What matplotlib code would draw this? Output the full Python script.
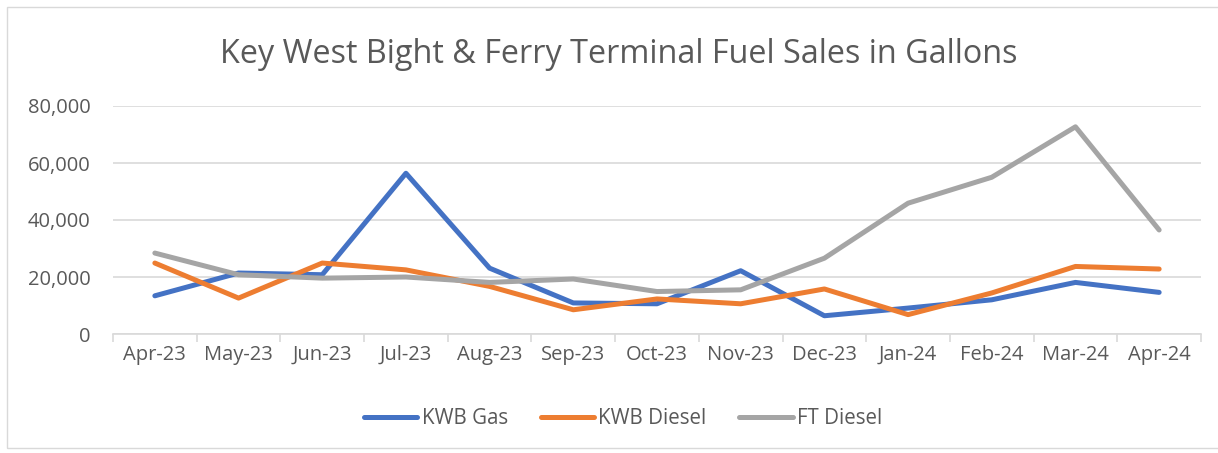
import numpy as np
import matplotlib.pyplot as plt
from matplotlib.patches import Rectangle
from matplotlib.ticker import FuncFormatter

# Data
months = ['Apr-23', 'May-23', 'Jun-23', 'Jul-23', 'Aug-23', 'Sep-23', 'Oct-23',
          'Nov-23', 'Dec-23', 'Jan-24', 'Feb-24', 'Mar-24', 'Apr-24']
kwb_gas = [13400, 21400, 20800, 56400, 23100, 10900, 10600,
           22200, 6400, 9100, 12000, 18100, 14600]
kwb_diesel = [24900, 12600, 24900, 22500, 16700, 8500, 12300,
              10600, 15800, 6800, 14400, 23700, 22800]
ft_diesel = [28400, 20800, 19600, 20000, 18100, 19300, 14900,
             15500, 26600, 45900, 55000, 72700, 36500]

plt.rcParams['font.family'] = ['Open Sans', 'DejaVu Sans']
text_color = '#595959'
grid_color = '#D9D9D9'

fig = plt.figure(figsize=(12.18, 4.53), dpi=100)
ax = fig.add_axes([113 / 1218, 1 - 334 / 453, (1201 - 113) / 1218, (334 - 106) / 453])

x = np.arange(len(months))
style = dict(lw=3.6, solid_capstyle='round', solid_joinstyle='round')
ax.plot(x, kwb_gas, color='#4472C4', label='KWB Gas', **style)
ax.plot(x, kwb_diesel, color='#ED7D31', label='KWB Diesel', **style)
ax.plot(x, ft_diesel, color='#A5A5A5', label='FT Diesel', **style)

ax.set_xlim(-0.5, len(months) - 0.5)
ax.set_ylim(0, 80000)
ax.set_yticks(range(0, 80001, 20000))
ax.yaxis.set_major_formatter(FuncFormatter(lambda v, p: f'{int(v):,}'))
ax.set_xticks(x)
ax.set_xticklabels(months)
ax.set_xticks(np.arange(-0.5, len(months)), minor=True)

ax.grid(axis='y', color=grid_color, lw=1.2)
ax.set_axisbelow(True)
for s in ['top', 'right', 'left']:
    ax.spines[s].set_visible(False)
ax.spines['bottom'].set_color(grid_color)
ax.spines['bottom'].set_linewidth(1.2)

ax.tick_params(axis='y', length=0, labelsize=14.5, labelcolor=text_color, pad=16)
ax.tick_params(axis='x', which='major', length=0, labelsize=14.5, labelcolor=text_color, pad=8)
ax.tick_params(axis='x', which='minor', length=6, color=grid_color, width=1.2)

fig.text(619 / 1218, 1 - 63 / 453, 'Key West Bight & Ferry Terminal Fuel Sales in Gallons',
         ha='center', va='baseline', fontsize=23.3, color=text_color)

leg = fig.legend(loc='center', bbox_to_anchor=(623 / 1218, 1 - 419 / 453), ncol=3,
                 frameon=False, fontsize=14.8, handlelength=2.6, handletextpad=0.2,
                 columnspacing=1.6)
for t in leg.get_texts():
    t.set_color(text_color)

# chart border
fig.patches.append(Rectangle((7 / 1218, 5 / 453), 1.0, 1 - 12 / 453,
                             transform=fig.transFigure, fill=False,
                             edgecolor=grid_color, lw=1))

fig.savefig('out.png', dpi=100)
